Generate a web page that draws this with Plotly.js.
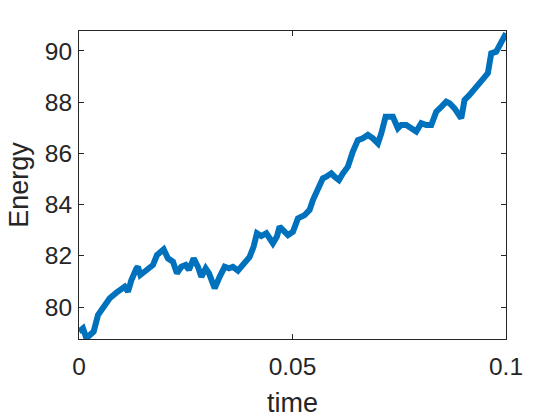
<!DOCTYPE html>
<html>
<head>
<meta charset="utf-8">
<script src="https://cdn.plot.ly/plotly-3.0.1.min.js"></script>
<style>
  html, body { margin: 0; padding: 0; background: #fff; }
  #plot { width: 560px; height: 420px; }
</style>
</head>
<body>
<div id="plot"></div>
<script>
// time samples and energy values
const time = [
  0, 0.00094, 0.00173, 0.00267, 0.00344, 0.00445, 0.00562, 0.00719, 0.00876, 0.00993,
  0.0107, 0.01147, 0.01227, 0.01344, 0.01381, 0.01437, 0.01538, 0.01655, 0.01732, 0.01826,
  0.01983, 0.02083, 0.02201, 0.02294, 0.02397, 0.02498, 0.02575, 0.02685, 0.02786, 0.02865,
  0.02966, 0.03043, 0.03177, 0.03294, 0.03411, 0.03511, 0.03605, 0.03722, 0.03839, 0.03996,
  0.0409, 0.04167, 0.0427, 0.04387, 0.04541, 0.04635, 0.04698, 0.04776, 0.04893, 0.0501,
  0.05127, 0.05284, 0.05401, 0.05478, 0.05595, 0.05712, 0.05792, 0.05909, 0.05986, 0.06087,
  0.0618, 0.06297, 0.06414, 0.06531, 0.06648, 0.06765, 0.06883, 0.07, 0.07079, 0.0718,
  0.07351, 0.07468, 0.07547, 0.07664, 0.07781, 0.07898, 0.08016, 0.08133, 0.0825, 0.08367,
  0.08484, 0.08601, 0.08678, 0.08795, 0.08952, 0.09029, 0.09146, 0.09263, 0.0938, 0.09474,
  0.09575, 0.09654, 0.09771, 0.09888, 0.1
];
const energy = [
  79.04, 79.17, 78.78, 78.9, 79.04, 79.69, 80.01, 80.34, 80.56, 80.66,
  80.79, 80.6, 81.05, 81.5, 81.57, 81.25, 81.38, 81.57, 81.64, 82.03,
  82.25, 81.9, 81.77, 81.32, 81.57, 81.64, 81.45, 81.9, 81.57, 81.18,
  81.51, 81.32, 80.73, 81.18, 81.57, 81.51, 81.57, 81.42, 81.64, 81.96,
  82.36, 82.88, 82.77, 82.88, 82.49, 82.75, 83.14, 83.0, 82.81, 82.94,
  83.46, 83.59, 83.79, 84.18, 84.57, 85.03, 85.09, 85.22, 85.09, 84.96,
  85.22, 85.48, 86.07, 86.52, 86.59, 86.72, 86.59, 86.39, 86.78, 87.43,
  87.43, 86.98, 87.11, 87.11, 86.98, 86.85, 87.18, 87.11, 87.11, 87.63,
  87.82, 88.02, 87.96, 87.76, 87.37, 88.09, 88.28, 88.54, 88.8, 88.93,
  89.13, 89.91, 89.97, 90.3, 90.69
];
const xTicks = [0, 0.05, 0.1];
const xTickText = ['0', '0.05', '0.1'];
const yTicks = [80, 82, 84, 86, 88, 90];

const axisColor = '#262626';
const font = 'Liberation Sans, Arial, sans-serif';

const trace = {
  x: time,
  y: energy,
  mode: 'lines',
  line: { color: '#0072BD', width: 6 },
  hoverinfo: 'skip'
};

const commonAxis = {
  showgrid: false,
  zeroline: false,
  showline: true,
  linecolor: axisColor,
  linewidth: 1,
  mirror: 'ticks',
  ticks: 'inside',
  ticklen: 5,
  tickcolor: axisColor,
  tickfont: { family: font, size: 24.5, color: axisColor }
};

const layout = {
  width: 560,
  height: 420,
  margin: { l: 79, r: 54, t: 31, b: 81 },
  paper_bgcolor: '#fff',
  plot_bgcolor: '#fff',
  showlegend: false,
  xaxis: Object.assign({}, commonAxis, {
    range: [0, 0.1],
    tickvals: xTicks,
    ticktext: xTickText,
    ticklabelstandoff: 6,
    title: { text: 'time', font: { family: font, size: 27, color: axisColor }, standoff: 13 }
  }),
  yaxis: Object.assign({}, commonAxis, {
    range: [78.75, 90.78],
    tickvals: yTicks,
    ticklabelstandoff: 1,
    title: { text: 'Energy', font: { family: font, size: 27, color: axisColor }, standoff: 8 }
  })
};

Plotly.newPlot('plot', [trace], layout, { staticPlot: true });
</script>
</body>
</html>
